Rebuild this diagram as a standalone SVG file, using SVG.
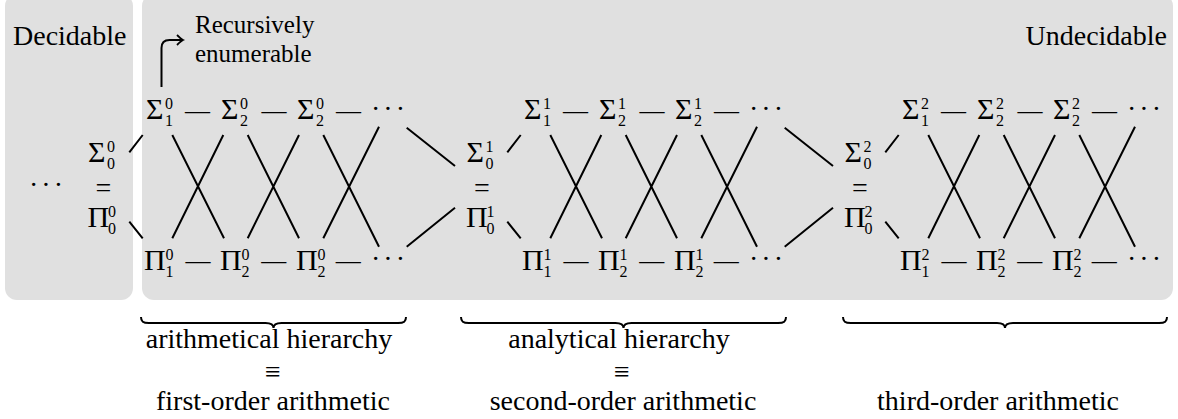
<svg xmlns="http://www.w3.org/2000/svg" width="1178" height="419" viewBox="0 0 1178 419">
<style>
text{font-family:'Liberation Serif','Times New Roman','DejaVu Serif',serif;fill:#000}
.m{font-size:28px}
.g{font-size:30px}
.s{font-size:16px}
.d{font-size:25px}
.eq{font-size:28px}
.c{stroke:#000;stroke-width:2;fill:none;stroke-linecap:butt}
.box{fill:#e0e0e0}
</style>
<defs>
<marker id="ah" markerUnits="userSpaceOnUse" markerWidth="14" markerHeight="14" refX="0" refY="0" viewBox="-8 -7 10 14" orient="auto" overflow="visible">
<path d="M-6,-5 Q-2,-1 0,0 Q-2,1 -6,5" fill="none" stroke="#000" stroke-width="1.8"/>
</marker>
</defs>
<rect x="0" y="0" width="1178" height="419" fill="#fff"/>
<g id="decidable">
<rect class="box" x="5" y="-6" width="128" height="306" rx="12"/>
<text class="m" x="13" y="45">Decidable</text>
<text class="m" x="29" y="194" letter-spacing="3">···</text>
</g>
<g id="undecidable">
<rect class="box" x="142" y="-6" width="1031" height="306" rx="12"/>
<text class="m" x="1167" y="45" text-anchor="end">Undecidable</text>
</g>
<g id="re-label">
<text font-size="25" x="195" y="33">Recursively</text>
<text font-size="25" x="195" y="62">enumerable</text>
</g>
<g id="level0">
<text class="g" x="88" y="162">Σ<tspan class="s" x="107" y="152">0</tspan><tspan class="s" x="107" y="169">0</tspan></text>
<text class="m" x="103.5" y="197" text-anchor="middle">=</text>
<text class="g" x="87.5" y="227">Π<tspan class="s" x="108" y="217">0</tspan><tspan class="s" x="108" y="234">0</tspan></text>
<g id="row-sigma0">
<text class="g" x="146" y="119">Σ<tspan class="s" x="165" y="109">0</tspan><tspan class="s" x="165" y="126">1</tspan></text>
<text class="d" x="197.5" y="118.5" text-anchor="middle">—</text>
<text class="g" x="221" y="119">Σ<tspan class="s" x="240" y="109">0</tspan><tspan class="s" x="240" y="126">2</tspan></text>
<text class="d" x="274" y="118.5" text-anchor="middle">—</text>
<text class="g" x="297" y="119">Σ<tspan class="s" x="316" y="109">0</tspan><tspan class="s" x="316" y="126">2</tspan></text>
<text class="d" x="348.5" y="118.5" text-anchor="middle">—</text>
<text class="m" x="371" y="118" letter-spacing="3">···</text>
</g>
<g id="row-pi0">
<text class="g" x="144" y="270">Π<tspan class="s" x="165.5" y="260">0</tspan><tspan class="s" x="165.5" y="277">1</tspan></text>
<text class="d" x="198" y="268.5" text-anchor="middle">—</text>
<text class="g" x="220" y="270">Π<tspan class="s" x="241.5" y="260">0</tspan><tspan class="s" x="241.5" y="277">2</tspan></text>
<text class="d" x="273.7" y="268.5" text-anchor="middle">—</text>
<text class="g" x="296" y="270">Π<tspan class="s" x="317.5" y="260">0</tspan><tspan class="s" x="317.5" y="277">2</tspan></text>
<text class="d" x="348.3" y="268.5" text-anchor="middle">—</text>
<text class="m" x="371" y="268" letter-spacing="3">···</text>
</g>
</g>
<g id="level1">
<text class="g" x="466.5" y="162">Σ<tspan class="s" x="485.5" y="152">1</tspan><tspan class="s" x="485.5" y="169">0</tspan></text>
<text class="m" x="482" y="197" text-anchor="middle">=</text>
<text class="g" x="466" y="227">Π<tspan class="s" x="486.5" y="217">1</tspan><tspan class="s" x="486.5" y="234">0</tspan></text>
<g id="row-sigma1">
<text class="g" x="524" y="119">Σ<tspan class="s" x="543" y="109">1</tspan><tspan class="s" x="543" y="126">1</tspan></text>
<text class="d" x="575.5" y="118.5" text-anchor="middle">—</text>
<text class="g" x="599" y="119">Σ<tspan class="s" x="618" y="109">1</tspan><tspan class="s" x="618" y="126">2</tspan></text>
<text class="d" x="652" y="118.5" text-anchor="middle">—</text>
<text class="g" x="675" y="119">Σ<tspan class="s" x="694" y="109">1</tspan><tspan class="s" x="694" y="126">2</tspan></text>
<text class="d" x="726.5" y="118.5" text-anchor="middle">—</text>
<text class="m" x="749" y="118" letter-spacing="3">···</text>
</g>
<g id="row-pi1">
<text class="g" x="522" y="270">Π<tspan class="s" x="543.5" y="260">1</tspan><tspan class="s" x="543.5" y="277">1</tspan></text>
<text class="d" x="576" y="268.5" text-anchor="middle">—</text>
<text class="g" x="598" y="270">Π<tspan class="s" x="619.5" y="260">1</tspan><tspan class="s" x="619.5" y="277">2</tspan></text>
<text class="d" x="651.7" y="268.5" text-anchor="middle">—</text>
<text class="g" x="674" y="270">Π<tspan class="s" x="695.5" y="260">1</tspan><tspan class="s" x="695.5" y="277">2</tspan></text>
<text class="d" x="726.3" y="268.5" text-anchor="middle">—</text>
<text class="m" x="749" y="268" letter-spacing="3">···</text>
</g>
</g>
<g id="level2">
<text class="g" x="844.5" y="162">Σ<tspan class="s" x="863.5" y="152">2</tspan><tspan class="s" x="863.5" y="169">0</tspan></text>
<text class="m" x="860" y="197" text-anchor="middle">=</text>
<text class="g" x="844" y="227">Π<tspan class="s" x="864.5" y="217">2</tspan><tspan class="s" x="864.5" y="234">0</tspan></text>
<g id="row-sigma2">
<text class="g" x="902" y="119">Σ<tspan class="s" x="921" y="109">2</tspan><tspan class="s" x="921" y="126">1</tspan></text>
<text class="d" x="953.5" y="118.5" text-anchor="middle">—</text>
<text class="g" x="977" y="119">Σ<tspan class="s" x="996" y="109">2</tspan><tspan class="s" x="996" y="126">2</tspan></text>
<text class="d" x="1030" y="118.5" text-anchor="middle">—</text>
<text class="g" x="1053" y="119">Σ<tspan class="s" x="1072" y="109">2</tspan><tspan class="s" x="1072" y="126">2</tspan></text>
<text class="d" x="1104.5" y="118.5" text-anchor="middle">—</text>
<text class="m" x="1127" y="118" letter-spacing="3">···</text>
</g>
<g id="row-pi2">
<text class="g" x="900" y="270">Π<tspan class="s" x="921.5" y="260">2</tspan><tspan class="s" x="921.5" y="277">1</tspan></text>
<text class="d" x="954" y="268.5" text-anchor="middle">—</text>
<text class="g" x="976" y="270">Π<tspan class="s" x="997.5" y="260">2</tspan><tspan class="s" x="997.5" y="277">2</tspan></text>
<text class="d" x="1029.7" y="268.5" text-anchor="middle">—</text>
<text class="g" x="1052" y="270">Π<tspan class="s" x="1073.5" y="260">2</tspan><tspan class="s" x="1073.5" y="277">2</tspan></text>
<text class="d" x="1104.3" y="268.5" text-anchor="middle">—</text>
<text class="m" x="1127" y="268" letter-spacing="3">···</text>
</g>
</g>
<g id="connectors" class="c">
<path d="M161.5,87 V48 Q161.5,40 169.5,40 H183" marker-end="url(#ah)"/>
<path d="M129.3,152.3 L142.7,135 M129.3,221.7 L142.7,238.3 M172.3,135 L224,238.3 M223.3,135 L172.3,238.3 M247.7,135 L299,238.3 M299,135 L247.7,238.3 M323.3,135 L379,246.7 M379,126.7 L323.3,238.3 M406.7,127.7 L455,166 M406.7,246.7 L455,207.7"/>
<path transform="translate(378,0)" d="M129.3,152.3 L142.7,135 M129.3,221.7 L142.7,238.3 M172.3,135 L224,238.3 M223.3,135 L172.3,238.3 M247.7,135 L299,238.3 M299,135 L247.7,238.3 M323.3,135 L379,246.7 M379,126.7 L323.3,238.3 M406.7,127.7 L455,166 M406.7,246.7 L455,207.7"/>
<path transform="translate(756,0)" d="M129.3,152.3 L142.7,135 M129.3,221.7 L142.7,238.3 M172.3,135 L224,238.3 M223.3,135 L172.3,238.3 M247.7,135 L299,238.3 M299,135 L247.7,238.3 M323.3,135 L379,246.7 M379,126.7 L323.3,238.3"/>
</g>
<g id="brace1">
<path class="c" d="M141,317 C141,321.5 143,323 149,323 H265.5 C270.5,323 273.5,324 273.5,328 C273.5,324 276.5,323 281.5,323 H398 C404,323 406,321.5 406,317"/>
<text class="m" x="269" y="348" text-anchor="middle">arithmetical hierarchy</text>
<text class="eq" x="273" y="381" text-anchor="middle">≡</text>
<text class="m" x="273" y="410" text-anchor="middle">first-order arithmetic</text>
</g>
<g id="brace2">
<path class="c" d="M461,317 C461,321.5 463,323 469,323 H615.5 C620.5,323 623.5,324 623.5,328 C623.5,324 626.5,323 631.5,323 H778 C784,323 786,321.5 786,317"/>
<text class="m" x="619" y="348" text-anchor="middle">analytical hierarchy</text>
<text class="eq" x="622" y="381" text-anchor="middle">≡</text>
<text class="m" x="623" y="410" text-anchor="middle">second-order arithmetic</text>
</g>
<g id="brace3">
<path class="c" d="M843,317 C843,321.5 845,323 851,323 H997 C1002,323 1005,324 1005,328 C1005,324 1008,323 1013,323 H1159 C1165,323 1167,321.5 1167,317"/>
<text class="m" x="998" y="410" text-anchor="middle">third-order arithmetic</text>
</g>
</svg>
